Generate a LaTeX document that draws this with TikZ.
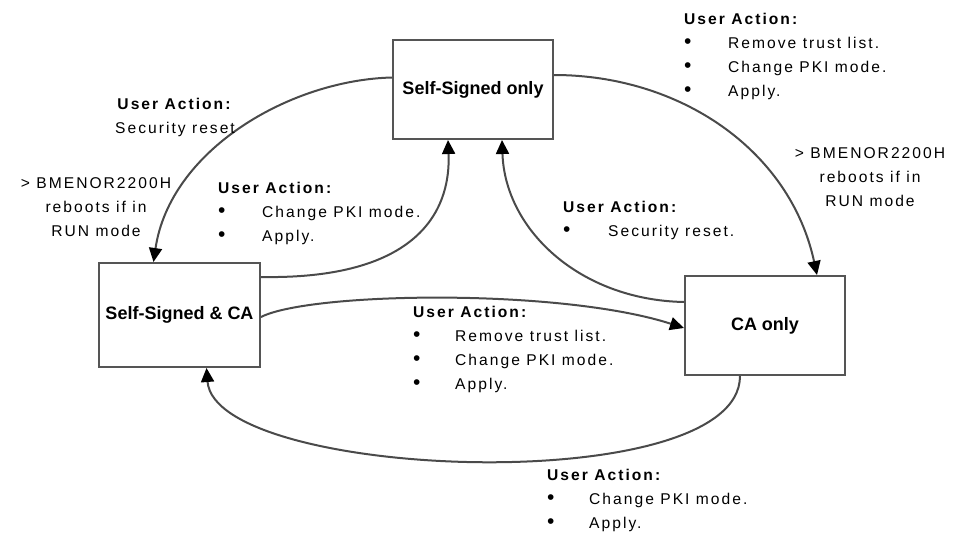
\documentclass[tikz,border=0pt]{standalone}
\usepackage{fontspec}
\setmainfont{Liberation Sans}[LetterSpace=13]
\newfontfamily\boxfont{Liberation Sans}
\usetikzlibrary{arrows.meta,calc}
\definecolor{boxgray}{HTML}{555555}
\definecolor{linegray}{HTML}{4A4A4A}
\tikzset{
  statebox/.style={draw=boxgray, line width=2pt, fill=white, inner sep=0pt,
    minimum width=160pt, minimum height=99pt, font=\boxfont\fontsize{18}{22}\selectfont\bfseries},
  conn/.style={draw=linegray, line width=2pt, -{Triangle[length=14pt,width=13pt,color=black]}},
  txt/.style={inner sep=0pt, anchor=base west, font=\fontsize{15.6}{24}\selectfont},
  ctxt/.style={inner sep=0pt, anchor=base, font=\fontsize{15.6}{24}\selectfont},
}
\newcommand{\ua}{\multicolumn{2}{@{}l@{}}{\textbf{User Action:}}}
\newcommand{\bul}{{\fontsize{21}{24}\selectfont\textbullet}}
\begin{document}
\begin{tikzpicture}[x=1pt,y=-1pt]
\useasboundingbox (0,0) rectangle (964,538);
% boxes
\node[statebox] (ss) at (473,89.5) {Self-Signed only};
\node[statebox, minimum width=161pt, minimum height=104pt] (sca) at (179.5,315) {Self-Signed \& CA};
\node[statebox] (ca) at (765,325.5) {CA only};
% connectors
\draw[conn] ([yshift=12pt]ss.west) .. controls (290,80) and (170,150) .. ([xshift=-26pt]sca.north);
\draw[conn] ([yshift=14.5pt]ss.east) .. controls (680,75) and (790,150) .. ([xshift=52pt]ca.north);
\draw[conn] ([yshift=38pt]sca.east) .. controls (440,280) and (450,190) .. ([xshift=-25pt]ss.south);
\draw[conn] ([yshift=23.5pt]ca.west) .. controls (580,300) and (505,230) .. ([xshift=29pt]ss.south);
\draw[conn] ([yshift=-2pt]sca.east) .. controls (310,292) and (560,288) .. ([yshift=-2.5pt]ca.west);
\draw[conn] ([xshift=-25pt]ca.south) .. controls (740,500) and (215,480) .. ([xshift=27pt]sca.south);
% labels
\node[ctxt] (tA) at (175,109.5) {\begin{tabular}[t]{@{}c@{}}\textbf{User Action:}\\ Security reset\end{tabular}};
\node[ctxt] (tB) at (96,188) {\begin{tabular}[t]{@{}c@{}}> BMENOR2200H\\ reboots if in\\ RUN mode\end{tabular}};
\node[txt] (tC) at (218,193) {\begin{tabular}[t]{@{}p{44pt}@{}l@{}}\ua\\ \bul & Change PKI mode.\\ \bul & Apply.\end{tabular}};
\node[txt] (tD) at (684,24) {\begin{tabular}[t]{@{}p{44pt}@{}l@{}}\ua\\ \bul & Remove trust list.\\ \bul & Change PKI mode.\\ \bul & Apply.\end{tabular}};
\node[ctxt] (tE) at (870,158) {\begin{tabular}[t]{@{}c@{}}> BMENOR2200H\\ reboots if in\\ RUN mode\end{tabular}};
\node[txt] (tF) at (563,212) {\begin{tabular}[t]{@{}p{45pt}@{}l@{}}\ua\\ \bul & Security reset.\end{tabular}};
\node[txt] (tG) at (413,317) {\begin{tabular}[t]{@{}p{42pt}@{}l@{}}\ua\\ \bul & Remove trust list.\\ \bul & Change PKI mode.\\ \bul & Apply.\end{tabular}};
\node[txt] (tH) at (547,480) {\begin{tabular}[t]{@{}p{42pt}@{}l@{}}\ua\\ \bul & Change PKI mode.\\ \bul & Apply.\end{tabular}};
\end{tikzpicture}
\end{document}
